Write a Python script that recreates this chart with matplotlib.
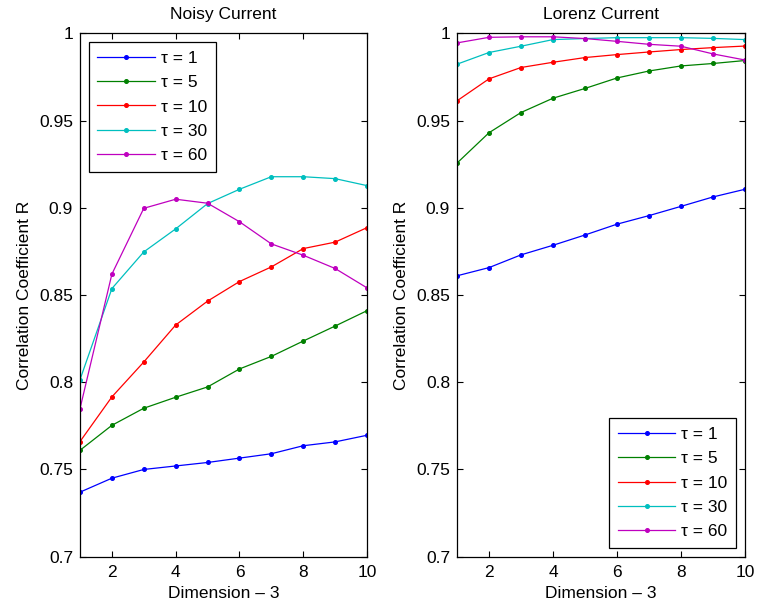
import numpy as np
import matplotlib
matplotlib.use("Agg")
import matplotlib.pyplot as plt
from matplotlib.ticker import FixedLocator

plt.rcParams['font.family'] = ['Liberation Sans', 'DejaVu Sans']

dims = np.arange(1, 11)
taus = [1, 5, 10, 30, 60]
colors = ['#0000ff', '#008000', '#ff0000', '#00bfbf', '#bf00bf']

# correlation vs embedding dimension, noisy signal
noisy_tau1 = [0.737, 0.745, 0.750, 0.752, 0.754, 0.7565, 0.759, 0.7636, 0.7658, 0.7696]
noisy_tau5 = [0.761, 0.7753, 0.7851, 0.7914, 0.7973, 0.8076, 0.8148, 0.8236, 0.8322, 0.841]
noisy_tau10 = [0.766, 0.7916, 0.8116, 0.8328, 0.8465, 0.8577, 0.8661, 0.8766, 0.8803, 0.8886]
noisy_tau30 = [0.8015, 0.8537, 0.8747, 0.8879, 0.9024, 0.9106, 0.9178, 0.9178, 0.9167, 0.9127]
noisy_tau60 = [0.7849, 0.862, 0.8997, 0.9049, 0.9026, 0.892, 0.8793, 0.8728, 0.8652, 0.8541]

# correlation vs embedding dimension, Lorenz signal
lorenz_tau1 = [0.861, 0.8657, 0.873, 0.8785, 0.8844, 0.8906, 0.8955, 0.9008, 0.9062, 0.9106]
lorenz_tau5 = [0.9256, 0.943, 0.9546, 0.9628, 0.9684, 0.9744, 0.9784, 0.9813, 0.9827, 0.9844]
lorenz_tau10 = [0.9613, 0.9739, 0.9804, 0.9834, 0.9861, 0.9878, 0.9893, 0.9907, 0.9918, 0.9927]
lorenz_tau30 = [0.9823, 0.989, 0.9926, 0.9964, 0.997, 0.9975, 0.9975, 0.9975, 0.9971, 0.9964]
lorenz_tau60 = [0.9945, 0.9977, 0.998, 0.998, 0.997, 0.9954, 0.9937, 0.9926, 0.9882, 0.9847]

noisy = [noisy_tau1, noisy_tau5, noisy_tau10, noisy_tau30, noisy_tau60]
lorenz = [lorenz_tau1, lorenz_tau5, lorenz_tau10, lorenz_tau30, lorenz_tau60]

yticks = [0.7, 0.75, 0.8, 0.85, 0.9, 0.95, 1.0]
ytick_labels = ['0.7', '0.75', '0.8', '0.85', '0.9', '0.95', '1']

FS = 12.5

fig = plt.figure(figsize=(7.57, 6.09), dpi=100)
ax1 = fig.add_axes([0.1057, 0.0859, 0.3791, 0.8594])
ax2 = fig.add_axes([0.6037, 0.0859, 0.3804, 0.8594])


def draw_panel(ax, series, title, legend_loc):
    for vals, tau, c in zip(series, taus, colors):
        ax.plot(dims, vals, '-', color=c, lw=0.9, marker='o', ms=2.6,
                mec=c, mfc=c, label='\u03c4 = %d' % tau)
    ax.set_xlim(1, 10)
    ax.set_ylim(0.7, 1.0)
    ax.xaxis.set_major_locator(FixedLocator([2, 4, 6, 8, 10]))
    ax.set_yticks(yticks)
    ax.set_yticklabels(ytick_labels)
    ax.tick_params(direction='in', top=True, right=True, labelsize=FS,
                   length=4, width=0.8)
    ax.tick_params(axis='x', pad=6)
    ax.tick_params(axis='y', pad=5)
    for s in ax.spines.values():
        s.set_linewidth(0.9)
    ax.set_title(title, fontsize=FS, pad=10)
    ax.set_xlabel('Dimension \u2013 3', fontsize=FS, labelpad=4.5)
    ax.set_ylabel('Correlation Coefficient R', fontsize=FS, labelpad=5)
    leg = ax.legend(loc=legend_loc, fontsize=FS, handlelength=3.3,
                    handletextpad=0.35, borderpad=0.5, labelspacing=0.53,
                    fancybox=False, framealpha=1, edgecolor='black',
                    borderaxespad=0.5)
    leg.get_frame().set_linewidth(0.9)


draw_panel(ax1, noisy, 'Noisy Current', 'upper left')
draw_panel(ax2, lorenz, 'Lorenz Current', 'lower right')

fig.savefig('out.png', dpi=100, facecolor='white')
